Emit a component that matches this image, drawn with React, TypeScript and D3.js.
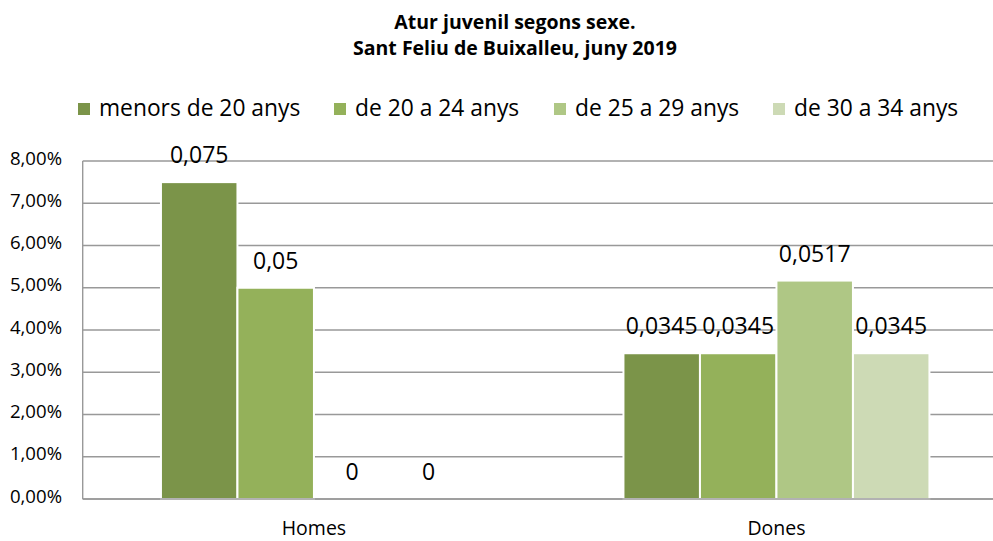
import React from "react";
import * as d3 from "d3";

const categories = ["Homes", "Dones"];
const seriesNames = ["menors de 20 anys", "de 20 a 24 anys", "de 25 a 29 anys", "de 30 a 34 anys"];
const menors20 = [0.075, 0.0345];
const de20a24 = [0.05, 0.0345];
const de25a29 = [0, 0.0517];
const de30a34 = [0, 0.0345];
const valueLabels = [
  ["0,075", "0,05", "0", "0"],
  ["0,0345", "0,0345", "0,0517", "0,0345"],
];
const yTicks = [0, 0.01, 0.02, 0.03, 0.04, 0.05, 0.06, 0.07, 0.08];
const titleLines = ["Atur juvenil segons sexe.", "Sant Feliu de Buixalleu, juny 2019"];
const colors = ["#7b9449", "#94b15a", "#afc785", "#cddab5"];

const W = 993;
const H = 541;
const FONT = "'Open Sans', 'Noto Sans', sans-serif";

export default function App() {
  const seriesValues = [menors20, de20a24, de25a29, de30a34];
  const x0 = d3.scaleBand<string>().domain(categories).range([82.7, 1007.7]).paddingInner(0).paddingOuter(0);
  const x1 = d3
    .scaleBand<string>()
    .domain(seriesNames)
    .range([0, x0.bandwidth()])
    .paddingInner(0)
    .paddingOuter(1.023);
  const y = d3.scaleLinear().domain([0, 0.08]).range([499, 161]);
  const fmt = (v: number) => d3.format(".2f")(v * 100).replace(".", ",") + "%";

  const legendX = [78, 334, 554, 773];

  return (
    <svg width={W} height={H} style={{ position: "absolute", left: 0, top: 0, background: "#fff" }}>
      <rect x={0} y={0} width={W} height={H} fill="#fff" />
      {titleLines.map((t, i) => (
        <text key={t} x={515} y={29 + i * 26} textAnchor="middle" fontFamily={FONT} fontWeight="bold" fontSize={19.5} fill="#000">
          {t}
        </text>
      ))}
      {seriesNames.map((s, i) => (
        <g key={s}>
          <rect x={legendX[i]} y={103} width={12} height={12} fill={colors[i]} />
          <text x={legendX[i] + 21} y={115.5} fontFamily={FONT} fontSize={22.8} fill="#000">
            {s}
          </text>
        </g>
      ))}
      {yTicks.map((t) => (
        <g key={t}>
          <line x1={82.7} x2={1007.7} y1={y(t)} y2={y(t)} stroke="#999" strokeWidth={1.4} />
          <text x={62} y={y(t) - 4} textAnchor="end" dominantBaseline="central" fontFamily={FONT} fontSize={18.6} fill="#000">
            {fmt(t)}
          </text>
        </g>
      ))}
      <line x1={82.7} x2={82.7} y1={y(0.08)} y2={y(0)} stroke="#999" strokeWidth={1.4} />
      {categories.map((c, ci) => (
        <g key={c} transform={`translate(${x0(c)},0)`}>
          {seriesNames.map((s, si) => {
            const v = seriesValues[si][ci];
            const bx = x1(s)!;
            const bw = x1.bandwidth();
            return (
              <g key={s}>
                {v > 0 && (
                  <rect x={bx} y={y(v)} width={bw} height={y(0) - y(v)} fill={colors[si]} stroke="#fff" strokeWidth={2} />
                )}
                <text x={bx + bw / 2} y={y(v) - 19} textAnchor="middle" fontFamily={FONT} fontSize={23} fill="#000">
                  {valueLabels[ci][si]}
                </text>
              </g>
            );
          })}
          <text x={x0.bandwidth() / 2} y={535} textAnchor="middle" fontFamily={FONT} fontSize={19.5} fill="#000">
            {c}
          </text>
        </g>
      ))}
      <line x1={82.7} x2={1007.7} y1={y(0)} y2={y(0)} stroke="#999" strokeWidth={1.4} />
    </svg>
  );
}
